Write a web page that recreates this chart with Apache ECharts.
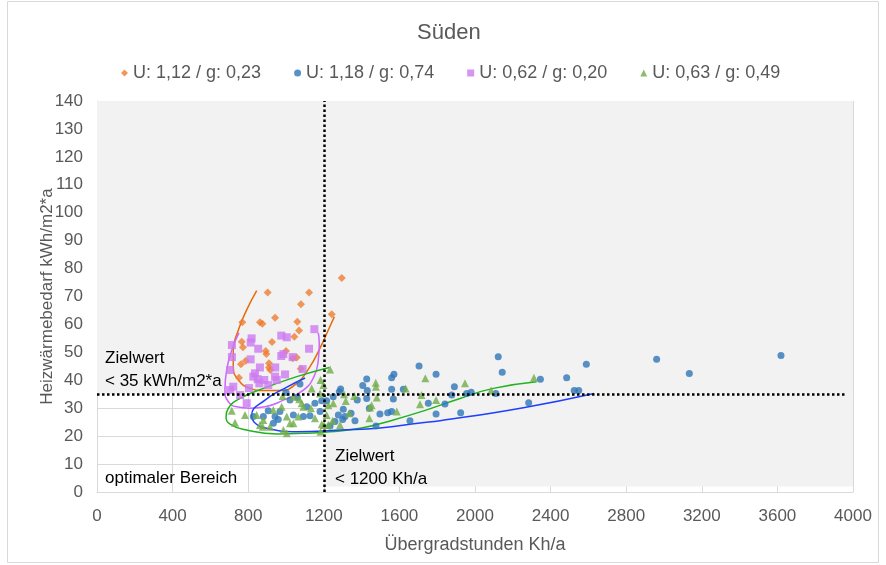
<!DOCTYPE html>
<html>
<head>
<meta charset="utf-8">
<script src="https://cdn.jsdelivr.net/npm/echarts@6/dist/echarts.min.js"></script>
<style>
html,body{margin:0;padding:0;background:#fff;}
#c{width:886px;height:565px;}
</style>
</head>
<body>
<div id="c"></div>
<script>
var xTicks = [0,400,800,1200,1600,2000,2400,2800,3200,3600,4000];
var yTicks = [0,10,20,30,40,50,60,70,80,90,100,110,120,130,140];
var seriesNames = ['U: 1,12 / g: 0,23','U: 1,18 / g: 0,74','U: 0,62 / g: 0,20','U: 0,63 / g: 0,49'];

var orangeData = [[769,60.8],[903,71.4],[1122,71.4],[1079,67.2],[1242,63.6],[1295,76.6],[862,60.8],[875,60.2],[942,62.4],[1060,61.0],[1069,57.8],[1044,55.6],[926,53.7],[766,53.8],[772,51.8],[893,50.5],[896,49.4],[1000,50.5],[1057,48.2],[1035,47.9],[787,47.0],[910,46.1],[762,45.7],[910,44.6],[917,43.7],[1078,44.1],[751,40.9]];

var blueData = [[2123,48.4],[2144,42.9],[2589,45.7],[2961,47.5],[3134,42.4],[3619,48.9],[2485,40.9],[2525,36.3],[2549,36.3],[2346,40.4],[2284,32.0],[2110,35.3],[1956,35.3],[1980,35.7],[1924,28.4],[1891,37.7],[1877,34.7],[1841,31.5],[1794,27.9],[1794,42.2],[1753,31.8],[1704,45.1],[1656,25.5],[1621,36.8],[1571,42.2],[1559,40.9],[1559,36.8],[1568,33.3],[1559,28.8],[1538,28.4],[1497,27.9],[1476,23.6],[1441,30.0],[1430,36.3],[1427,40.5],[1406,38.1],[1377,32.9],[1365,25.5],[1344,28.2],[1303,29.6],[1300,26.0],[1277,27.6],[1289,36.9],[1282,35.9],[1233,23.6],[1215,32.7],[1189,32.7],[1180,28.8],[1153,31.8],[1127,27.3],[1110,30.5],[1092,27.0],[1074,38.7],[1060,33.8],[1021,32.9],[1039,27.6],[1000,35.6],[968,28.8],[959,26.0],[942,27.0],[933,24.6],[906,29.1],[880,27.0],[827,27.0],[1259,25.2],[1312,27.0],[1427,33.5],[1250,34.1]];

var pinkData = [[818,55.0],[813,53.5],[853,51.3],[975,56.0],[1004,55.4],[1150,58.3],[1122,51.3],[975,48.7],[986,49.4],[1035,48.3],[813,47.5],[862,44.6],[943,44.6],[836,42.5],[827,41.3],[850,40.4],[859,38.9],[942,41.3],[951,40.1],[995,42.1],[1088,44.0],[721,37.7],[704,36.5],[792,31.8],[714,52.6],[714,48.3],[704,43.7],[885,40.1],[906,38.3],[804,37.2],[757,34.7]];

var greenData = [[1233,43.9],[1183,40.1],[1136,37.1],[713,29.1],[730,24.8],[783,27.6],[845,27.6],[880,25.8],[877,23.4],[933,29.4],[982,34.4],[977,30.5],[1004,27.0],[1004,21.0],[1021,24.6],[1070,33.2],[1065,27.0],[1092,30.5],[1132,30.0],[1153,26.4],[1189,24.3],[1224,24.0],[1286,24.0],[1183,21.6],[986,22.2],[915,23.4],[1475,39.1],[1476,37.7],[1737,40.7],[1633,37.1],[1307,35.0],[1361,34.4],[1480,33.8],[1250,31.8],[1224,31.1],[1316,32.6],[1453,31.1],[1444,30.3],[1709,31.4],[1794,32.9],[1586,28.8],[1441,26.4],[1335,28.2],[1247,25.5],[1215,27.6],[1201,24.0],[1947,38.9],[2085,36.3],[2312,40.9],[1717,34.7],[1180,35.3],[1198,38.3],[1083,31.8],[1039,34.1],[862,24.0],[1039,24.6]];

var orangeCurve = [[845,72.1],[792,65.2],[748,58.0],[721,50.8],[721,44.9],[748,40.1],[810,37.1],[880,36.3],[968,36.3],[1057,38.9],[1127,44.9],[1180,51.5],[1224,58.0],[1256,62.8]];
var pinkCurve = [[751,57.0],[713,50.8],[686,43.7],[677,36.5],[695,32.3],[739,30.5],[810,30.0],[889,30.5],[986,32.9],[1092,36.5],[1148,41.3],[1171,47.3],[1176,53.2],[1171,57.0]];
var greenCurve = [[1229,44.6],[1057,41.3],[880,37.1],[757,33.5],[695,30.0],[683,27.0],[704,24.3],[792,22.2],[951,20.8],[1092,21.0],[1233,21.6],[1392,22.8],[1568,25.8],[1744,29.4],[1921,33.5],[2097,37.1],[2326,39.5]];
var blueCurve = [[1101,40.8],[995,37.2],[889,32.9],[819,27.6],[836,24.7],[898,22.8],[1057,21.6],[1286,22.2],[1497,22.9],[1709,24.7],[1815,25.5],[2256,30.2],[2630,35.3]];

var targetX = 1200;
var targetY = 35;

var chart = echarts.init(document.getElementById('c'));
var FONT = '"Liberation Sans", Arial, sans-serif';
var TXT = '#595959';

function curve(data, color){
  return {type:'line', data:data, smooth:0.5, showSymbol:false, silent:true,
    lineStyle:{color:color, width:1.5}, z:3};
}

chart.setOption({
  animation:false,
  textStyle:{fontFamily:FONT},
  title:{text:'Süden', left:412, top:17, textStyle:{fontSize:22, fontWeight:'normal', color:TXT, fontFamily:FONT}},
  legend:{data:[
      {name:seriesNames[0], icon:'diamond'},
      {name:seriesNames[1], icon:'circle'},
      {name:seriesNames[2], icon:'rect'},
      {name:seriesNames[3], icon:'triangle'}],
    top:59, left:116, itemWidth:7, itemHeight:7, itemGap:33,
    textStyle:{fontSize:18, color:TXT, fontFamily:FONT}},
  grid:{left:97, right:33, top:101, bottom:73},
  xAxis:{type:'value', min:0, max:4000, interval:400,
    name:'Übergradstunden Kh/a', nameLocation:'middle', nameGap:44, nameMoveOverlap:false,
    nameTextStyle:{fontSize:18, color:TXT},
    axisLine:{show:true, lineStyle:{color:'#d9d9d9'}}, axisTick:{show:false},
    axisLabel:{fontSize:17, color:TXT, margin:16, formatter:function(v){return String(v);}},
    splitLine:{show:true, lineStyle:{color:'#d9d9d9', width:1}}},
  yAxis:{type:'value', min:0, max:140, interval:10,
    name:'Heizwärmebedarf kWh/m2*a', nameLocation:'middle', nameGap:41, nameMoveOverlap:false,
    nameTextStyle:{fontSize:17, color:TXT},
    axisLine:{show:true, lineStyle:{color:'#d9d9d9'}}, axisTick:{show:false},
    axisLabel:{fontSize:17, color:TXT, margin:14},
    splitLine:{show:true, lineStyle:{color:'#d9d9d9', width:1}}},
  graphic:[
    {type:'rect', shape:{x:7.5,y:1.5,width:871,height:561}, style:{fill:null, stroke:'#d9d9d9', lineWidth:1}, silent:true, z:-10},
    {type:'text', left:105, top:347, style:{text:'Zielwert\n< 35 kWh/m2*a', fontSize:17, lineHeight:23, fill:'#000', fontFamily:FONT}, z:10},
    {type:'text', left:335, top:445, style:{text:'Zielwert\n< 1200 Kh/a', fontSize:17, lineHeight:23, fill:'#000', fontFamily:FONT}, z:10},
    {type:'text', left:105, top:470, style:{text:'optimaler Bereich', fontSize:17, fill:'#000', fontFamily:FONT}, z:10}
  ],
  series:[
    {type:'scatter', name:'bg', data:[], z:-1, silent:true,
      markArea:{silent:true, itemStyle:{color:'#f2f2f2'}, data:[
        [{coord:[0,targetY]},{coord:[4000,140]}],
        [{coord:[targetX,2]},{coord:[4000,targetY]}]
      ]}},
    {type:'scatter', name:seriesNames[0], data:orangeData, symbol:'diamond', symbolSize:8, itemStyle:{color:'#ed7d31'}, z:4},
    {type:'scatter', name:seriesNames[1], data:blueData, symbol:'circle', symbolSize:7, itemStyle:{color:'#2e75b6'}, z:4},
    {type:'scatter', name:seriesNames[2], data:pinkData, symbol:'rect', symbolSize:8, itemStyle:{color:'#cc7af0'}, z:4},
    {type:'scatter', name:seriesNames[3], data:greenData, symbol:'triangle', symbolSize:8, itemStyle:{color:'#70ad47'}, z:4},
    curve(orangeCurve, '#e46c0a'),
    curve(pinkCurve, '#cc66ff'),
    curve(greenCurve, '#1fb31f'),
    curve(blueCurve, '#1f3fff'),
    {type:'line', data:[], silent:true, z:5,
      markLine:{silent:true, symbol:['none','none'], label:{show:false},
        lineStyle:{color:'#000', type:[2.5,2.5], width:2.5},
        data:[
          [{coord:[targetX,0]},{coord:[targetX,140]}],
          [{coord:[0,targetY]},{coord:[3960,targetY]}]
        ]}}
  ]
});
</script>
</body>
</html>
